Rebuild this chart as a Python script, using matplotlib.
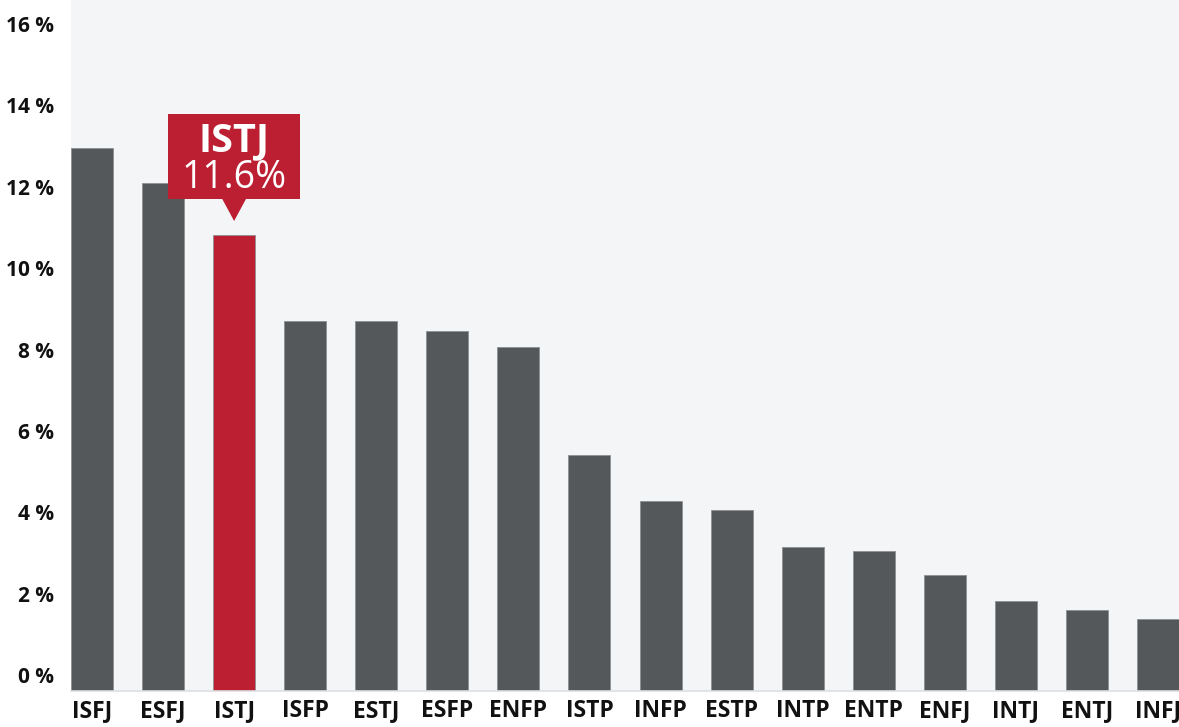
import matplotlib
matplotlib.use("Agg")
import matplotlib.pyplot as plt
from matplotlib.patches import Rectangle, Polygon

plt.rcParams['font.family'] = ['Open Sans', 'DejaVu Sans']

# share of population by type (%)
types = ["ISFJ", "ESFJ", "ISTJ", "ISFP", "ESTJ", "ESFP", "ENFP", "ISTP",
         "INFP", "ESTP", "INTP", "ENTP", "ENFJ", "INTJ", "ENTJ", "INFJ"]
shares = [12.95, 12.09, 10.81, 8.69, 8.70, 8.45, 8.06, 5.40,
          4.28, 4.05, 3.14, 3.05, 2.47, 1.82, 1.60, 1.38]
yticks = [0, 2, 4, 6, 8, 10, 12, 14, 16]
highlight = "ISTJ"
highlight_label = "11.6%"

GREY = "#54585b"
RED = "#bc1f32"
BG = "#f4f5f7"
TXT = "#111111"

W, H = 1179, 727
fig = plt.figure(figsize=(W / 100, H / 100), dpi=100)
ax = fig.add_axes([71 / W, 36 / H, 1 - 71 / W, 1 - 36 / H])
ax.set_facecolor(BG)

ymin, ymax = -0.39, 16.59
colors = [RED if t == highlight else GREY for t in types]
x = range(len(types))
ax.bar(x, [s - ymin for s in shares], bottom=ymin, width=0.59,
       color=colors, edgecolor="#8d9093", linewidth=0.6)

ax.set_xlim(-0.295, len(types) - 1 + 0.295)
ax.set_ylim(ymin, ymax)
ax.set_yticks(yticks)
ax.set_yticklabels([f"{t} %" for t in yticks], fontsize=15, fontweight="bold", color=TXT)
ax.set_xticks(list(x))
ax.set_xticklabels(types, fontsize=16.5, fontweight="bold", color=TXT)
ax.tick_params(axis="both", length=0)
ax.tick_params(axis="y", pad=12)
ax.tick_params(axis="x", pad=6)
for s in ["top", "right", "left"]:
    ax.spines[s].set_visible(False)
ax.spines["bottom"].set_color("#dddfe2")
ax.spines["bottom"].set_linewidth(1.2)

# callout above the highlighted bar
i = types.index(highlight)
v = shares[i]
tip = v + 0.35
box_bottom = tip + 0.54
box_top = box_bottom + 2.09
half_w = 0.93
ax.add_patch(Rectangle((i - half_w, box_bottom), 2 * half_w, box_top - box_bottom,
                       facecolor=RED, edgecolor="none", zorder=4))
ax.add_patch(Polygon([(i - 0.17, box_bottom + 0.01), (i + 0.17, box_bottom + 0.01), (i, tip)],
                     closed=True, facecolor=RED, edgecolor="none", zorder=4))
ax.text(i, box_bottom + 1.18, highlight, ha="center", va="baseline",
        fontsize=28.5, fontweight="bold", color="white", zorder=5)
ax.text(i, box_bottom + 0.27, highlight_label, ha="center", va="baseline",
        fontsize=27, color="white", zorder=5)

fig.savefig("out.png", dpi=100, facecolor="white")
